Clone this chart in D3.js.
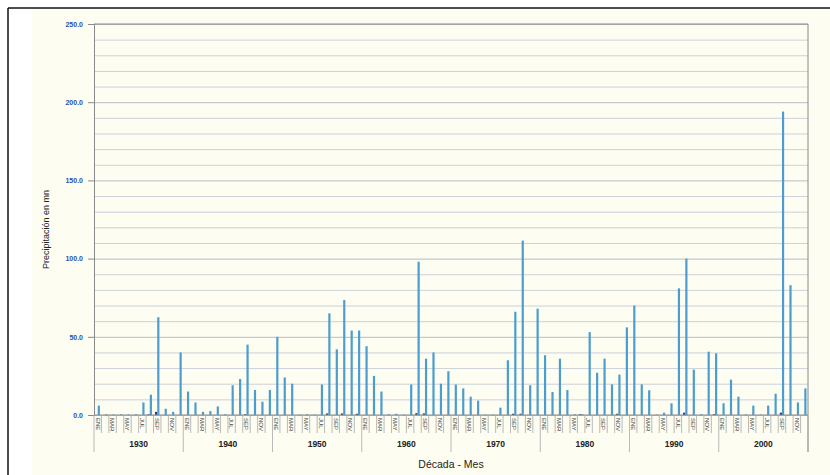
<!DOCTYPE html>
<html>
<head>
<meta charset="utf-8">
<script src="https://cdn.jsdelivr.net/npm/d3@7"></script>
<style>
  body { margin: 0; background: #fff; }
  text { font-family: 'Liberation Sans', Arial, sans-serif; }
</style>
</head>
<body>
<div id="chart"></div>
<script>
const width = 830
const height = 475
const margin = { top: 24, right: 22, bottom: 60, left: 94 }

const decades = ['1930', '1940', '1950', '1960', '1970', '1980', '1990', '2000']
const months = ['ENE', 'FEB', 'MAR', 'ABR', 'MAY', 'JUN', 'JUL', 'AGO', 'SEP', 'OCT', 'NOV', 'DIC']
const yTicks = [0, 50, 100, 150, 200, 250]

// precipitacion por decada, ENE..DIC
const precip1930 = [6, 0.5, 0.3, 0.5, 0.3, 0.5, 8, 13, 62.5, 4, 2, 40]
const precip1940 = [15, 8, 2, 2.5, 5.5, 0.5, 19, 23, 45, 16, 8.5, 16]
const precip1950 = [50, 24, 20, 0.3, 0.5, 0.3, 19.5, 65, 42, 73.5, 54, 54]
const precip1960 = [44, 25, 15, 0.5, 0.8, 0.3, 19.5, 98, 36, 40, 20, 28]
const precip1970 = [19.5, 17, 11.7, 9.2, 0.3, 0.3, 4.7, 35, 66, 111.5, 19, 68]
const precip1980 = [38.2, 14.7, 36, 16, 0.5, 0.5, 53, 27, 36, 19.6, 25.8, 56]
const precip1990 = [70, 19.6, 15.8, 0.3, 1.5, 7.5, 81, 100, 29, 0.5, 40.5, 39.5]
const precip2000 = [7.5, 22.6, 11.7, 0.3, 6, 0.3, 6, 13.6, 194, 83, 8, 17]

// segunda serie (valores minimos, casi cero)
const minimo = [
  0, 0, 0, 0, 0, 0, 0, 0.5, 2, 0, 0, 0,
  0, 0, 0, 0, 0, 0, 0, 0, 0.5, 0, 0, 0,
  0, 0, 0, 0, 0, 0, 0, 1, 0, 1, 0, 0.8,
  0, 0, 0, 0, 0, 0, 0, 1.2, 1, 0, 0, 0,
  0, 0, 0, 0, 0, 0, 0, 0, 0.8, 0.8, 0, 0,
  0, 0, 0, 0, 0, 0.5, 0, 0, 0, 0, 0.8, 0,
  0, 0, 0, 0, 0, 0, 0, 1.5, 0, 0, 0, 0.5,
  0, 0, 0, 0, 0, 0, 0, 0, 1.5, 0, 0, 0
]

const precip = [].concat(precip1930, precip1940, precip1950, precip1960,
  precip1970, precip1980, precip1990, precip2000)

const data = []
decades.forEach((dec, i) => {
  months.forEach((m, j) => {
    const k = i * 12 + j
    data.push({ key: dec + '-' + m, decade: dec, month: m, mi: j, precip: precip[k], minimo: minimo[k] })
  })
})

const svg = d3.select('#chart')
  .append('svg')
  .attr('width', width)
  .attr('height', height)

// marco
svg.append('rect')
  .attr('x', 32).attr('y', 9)
  .attr('width', width - 32).attr('height', height - 9)
  .attr('fill', '#fdfdf2')
svg.append('line')
  .attr('x1', 8).attr('x2', width).attr('y1', 8).attr('y2', 8)
  .attr('stroke', '#111').attr('stroke-width', 1.5)
svg.append('line')
  .attr('x1', 8).attr('x2', 8).attr('y1', 8).attr('y2', height)
  .attr('stroke', '#111').attr('stroke-width', 1.5)

const plotRight = width - margin.right

const x0 = d3.scaleBand()
  .domain(data.map(d => d.key))
  .range([margin.left, plotRight])
  .padding(0)

const x1 = d3.scaleBand()
  .domain(['minimo', 'precip'])
  .range([0, x0.bandwidth()])
  .paddingInner(0)
  .paddingOuter(0.7)

const y = d3.scaleLinear()
  .domain([0, 250])
  .range([415, margin.top])

// lineas de cuadricula
svg.append('g')
  .attr('class', 'grid')
  .attr('transform', `translate(${margin.left},0)`)
  .call(d3.axisLeft(y).ticks(25).tickSize(-(plotRight - margin.left)).tickFormat(''))
  .call(g => g.select('.domain').remove())
  .call(g => g.selectAll('.tick line')
    .attr('stroke', d => d % 50 === 0 ? '#b8bdc6' : '#ccd1da')
    .attr('stroke-width', 1))

svg.append('line')
  .attr('x1', margin.left).attr('x2', plotRight)
  .attr('y1', y(250)).attr('y2', y(250))
  .attr('stroke', '#8a8a8a').attr('stroke-width', 1.2)
svg.append('line')
  .attr('x1', plotRight).attr('x2', plotRight)
  .attr('y1', y(250)).attr('y2', y(0) + 37)
  .attr('stroke', '#8a8a8a').attr('stroke-width', 1)

// barras
const groups = svg.append('g')
  .selectAll('g')
  .data(data)
  .join('g')
  .attr('transform', d => `translate(${x0(d.key)},0)`)

groups.append('rect')
  .attr('x', x1('minimo'))
  .attr('width', x1.bandwidth())
  .attr('y', d => y(d.minimo))
  .attr('height', d => y(0) - y(d.minimo))
  .attr('fill', '#1f3a9a')

groups.append('rect')
  .attr('x', x1('precip'))
  .attr('width', x1.bandwidth())
  .attr('y', d => y(d.precip))
  .attr('height', d => y(0) - y(d.precip))
  .attr('fill', '#4b9dcf')

// eje Y
svg.append('g')
  .attr('transform', `translate(${margin.left},0)`)
  .call(d3.axisLeft(y).tickValues(yTicks).tickSize(6).tickPadding(5).tickFormat(d3.format('.1f')))
  .call(g => g.select('.domain').attr('stroke', '#8a8a8a'))
  .call(g => g.selectAll('.tick line').attr('stroke', '#8a8a8a'))
  .call(g => g.selectAll('.tick text')
    .attr('fill', '#2a52a8')
    .attr('font-weight', 'bold')
    .attr('font-size', 7))

// eje X
svg.append('line')
  .attr('x1', margin.left).attr('x2', plotRight)
  .attr('y1', y(0)).attr('y2', y(0))
  .attr('stroke', '#8a8a8a').attr('stroke-width', 1)

const xg = svg.append('g')
const bounds = data.map(d => x0(d.key)).concat([plotRight])
xg.selectAll('line.sep')
  .data(bounds)
  .join('line')
  .attr('class', 'sep')
  .attr('x1', d => d).attr('x2', d => d)
  .attr('y1', y(0))
  .attr('y2', (d, i) => i % 12 === 0 ? y(0) + 37 : y(0) + 18)
  .attr('stroke', '#a8a8a8')
  .attr('stroke-width', 0.8)

xg.selectAll('text.mes')
  .data(data.filter(d => d.mi % 2 === 0))
  .join('text')
  .attr('class', 'mes')
  .attr('transform', d => `translate(${x0(d.key) + x0.bandwidth() / 2},${y(0) + 3}) rotate(90)`)
  .attr('dy', '0.35em')
  .attr('font-size', 6)
  .attr('fill', '#444')
  .text(d => d.month)

xg.selectAll('text.dec')
  .data(decades)
  .join('text')
  .attr('class', 'dec')
  .attr('x', d => x0(d + '-ENE') + x0.bandwidth() * 6)
  .attr('y', y(0) + 32)
  .attr('text-anchor', 'middle')
  .attr('font-size', 8.5)
  .attr('font-weight', 'bold')
  .attr('fill', '#222')
  .text(d => d)

// titulos
svg.append('text')
  .attr('x', (margin.left + plotRight) / 2)
  .attr('y', 468)
  .attr('text-anchor', 'middle')
  .attr('font-size', 10.5)
  .attr('fill', '#222')
  .text('Década - Mes')

svg.append('text')
  .attr('transform', `translate(49,${(y(0) + y(250)) / 2 + 10}) rotate(-90)`)
  .attr('text-anchor', 'middle')
  .attr('font-size', 9)
  .attr('fill', '#222')
  .text('Precipitación en mn')
</script>
</body>
</html>
